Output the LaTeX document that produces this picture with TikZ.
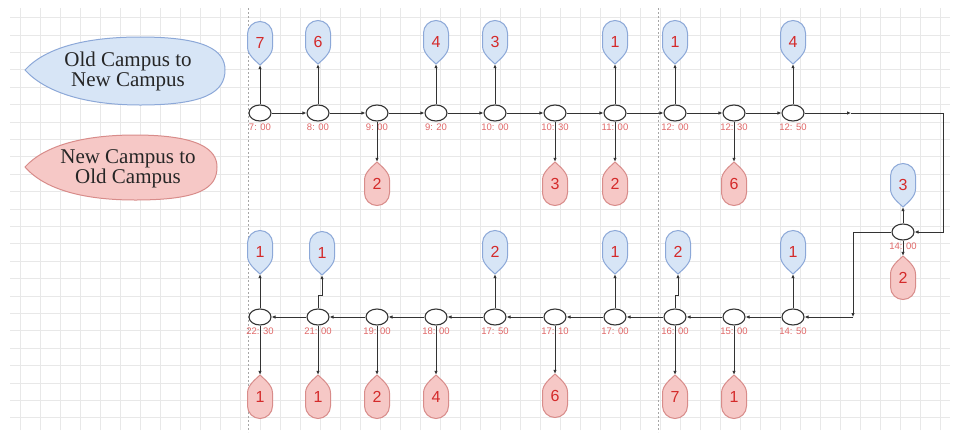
\documentclass[tikz,border=0pt]{standalone}
\usepackage{fontspec}
\setmainfont{Liberation Serif}
\newfontfamily\numfont{Liberation Sans}
\usetikzlibrary{shapes.geometric,arrows.meta}

\definecolor{tagblue}{HTML}{D7E5F6}
\definecolor{tagblueline}{HTML}{8CA8D8}
\definecolor{tagred}{HTML}{F6C8C6}
\definecolor{tagredline}{HTML}{D88C8A}
\definecolor{numred}{HTML}{D42A2A}
\definecolor{timered}{HTML}{E06868}
\definecolor{flowgray}{HTML}{333333}

\tikzset{
  tstop/.style={ellipse, draw=flowgray, line width=1.1pt, fill=white, minimum width=22pt, minimum height=16pt, inner sep=0pt},
  timelab/.style={font=\numfont\fontsize{9.5}{10}\selectfont, text=timered, inner sep=1pt},
  tagnode/.style={minimum width=25pt, minimum height=44pt, inner sep=0pt, font=\numfont\fontsize{16}{16}\selectfont, text=numred},
  upshape/.style={fill=tagblue, draw=tagblueline, line width=1pt},
  downshape/.style={fill=tagred, draw=tagredline, line width=1pt},
  flow/.style={draw=flowgray, line width=0.9pt, -{Latex[length=4pt,width=3.5pt]}},
  legendtext/.style={align=center, font=\fontsize{21}{20}\selectfont, text=black!85},
  guide/.style={draw=black!35, line width=0.5pt, dash pattern=on 2pt off 2pt},
  gridline/.style={draw=black!9, line width=0.5pt}
}

\newcommand{\uptag}[3]{%
  \draw[upshape, shift={(#2)}] (0,22) .. controls (-4,18) and (-12.5,12) .. (-12.5,4) -- (-12.5,-9)
    arc[start angle=180, end angle=360, radius=12.5] -- (12.5,4) .. controls (12.5,12) and (4,18) .. (0,22) -- cycle;
  \node[tagnode] (#1) at (#2) {#3};}
\newcommand{\downtag}[3]{%
  \draw[downshape, shift={(#2)}] (0,-22) .. controls (-4,-18) and (-12.5,-12) .. (-12.5,-4) -- (-12.5,9)
    arc[start angle=180, end angle=0, radius=12.5] -- (12.5,-4) .. controls (12.5,-12) and (4,-18) .. (0,-22) -- cycle;
  \node[tagnode] (#1) at (#2) {#3};}

\begin{document}
\begin{tikzpicture}[x=1pt, y=-1pt]
\fill[white] (0,0) rectangle (956,432);
\useasboundingbox (0,0) rectangle (956,432);
\begin{scope}[y=1pt]
\draw[gridline, xstep=20, ystep=17.4] (10,-430) grid (950,-8);
\end{scope}
\draw[guide] (248,8) -- (248,432);
\draw[guide] (658,8) -- (658,432);

% legend
\draw[upshape] (25,70) .. controls (45,48) and (85,37) .. (140,37) .. controls (205,37) and (225,50) .. (225,70)
  .. controls (225,92) and (205,105) .. (140,105) .. controls (85,105) and (45,92) .. (25,70) -- cycle;
\node[legendtext] (oldnew) at (128,71) {Old Campus to\\New Campus};
\draw[downshape] (25,167) .. controls (45,145) and (85,135) .. (135,135) .. controls (200,135) and (217,150) .. (217,167)
  .. controls (217,188) and (200,200) .. (135,200) .. controls (85,200) and (45,190) .. (25,167) -- cycle;
\node[legendtext] (newold) at (128,169) {New Campus to\\Old Campus};

% stops, morning
\node[tstop, label={[timelab, label distance=1pt]below:{7: 00}}] (t700) at (260,113) {};
\node[tstop, label={[timelab, label distance=1pt]below:{8: 00}}] (t800) at (318,113) {};
\node[tstop, label={[timelab, label distance=1pt]below:{9: 00}}] (t900) at (377,113) {};
\node[tstop, label={[timelab, label distance=1pt]below:{9: 20}}] (t920) at (436,113) {};
\node[tstop, label={[timelab, label distance=1pt]below:{10: 00}}] (t1000) at (495,113) {};
\node[tstop, label={[timelab, label distance=1pt]below:{10: 30}}] (t1030) at (555,113) {};
\node[tstop, label={[timelab, label distance=1pt]below:{11: 00}}] (t1100) at (615,113) {};
\node[tstop, label={[timelab, label distance=1pt]below:{12: 00}}] (t1200) at (675,113) {};
\node[tstop, label={[timelab, label distance=1pt]below:{12: 30}}] (t1230) at (734,113) {};
\node[tstop, label={[timelab, label distance=1pt]below:{12: 50}}] (t1250) at (793,113) {};
\node[tstop, label={[timelab, label distance=1pt]below:{14: 00}}] (t1400) at (903,232) {};

% stops, afternoon
\node[tstop, label={[timelab, label distance=1pt]below:{14: 50}}] (t1450) at (793,317) {};
\node[tstop, label={[timelab, label distance=1pt]below:{15: 00}}] (t1500) at (734,317) {};
\node[tstop, label={[timelab, label distance=1pt]below:{16: 00}}] (t1600) at (675,317) {};
\node[tstop, label={[timelab, label distance=1pt]below:{17: 00}}] (t1700) at (615,317) {};
\node[tstop, label={[timelab, label distance=1pt]below:{17: 10}}] (t1710) at (555,317) {};
\node[tstop, label={[timelab, label distance=1pt]below:{17: 50}}] (t1750) at (495,317) {};
\node[tstop, label={[timelab, label distance=1pt]below:{18: 00}}] (t1800) at (436,317) {};
\node[tstop, label={[timelab, label distance=1pt]below:{19: 00}}] (t1900) at (377,317) {};
\node[tstop, label={[timelab, label distance=1pt]below:{21: 00}}] (t2100) at (318,317) {};
\node[tstop, label={[timelab, label distance=1pt]below:{22: 30}}] (t2230) at (260,317) {};

% riders
\uptag{u700}{260,43}{7}
\uptag{u800}{318,42}{6}
\uptag{u920}{436,42}{4}
\uptag{u1000}{495,42}{3}
\uptag{u1100}{615,42}{1}
\uptag{u1200}{675,42}{1}
\uptag{u1250}{793,42}{4}
\downtag{d900}{377,184}{2}
\downtag{d1030}{555,184}{3}
\downtag{d1100}{615,184}{2}
\downtag{d1230}{734,184}{6}
\uptag{u1400}{903,185}{3}
\downtag{d1400}{903,278}{2}
\uptag{u1450}{793,252}{1}
\uptag{u1600}{678,252}{2}
\uptag{u1700}{615,252}{1}
\uptag{u1750}{495,252}{2}
\uptag{u2100}{322,253}{1}
\uptag{u2230}{260,252}{1}
\downtag{d1500}{734,397}{1}
\downtag{d1600}{675,397}{7}
\downtag{d1710}{555,396}{6}
\downtag{d1800}{436,397}{4}
\downtag{d1900}{377,397}{2}
\downtag{d2100}{318,397}{1}
\downtag{d2230}{260,397}{1}

% route
\draw[flow] (t700) -- (t800);
\draw[flow] (t800) -- (t900);
\draw[flow] (t900) -- (t920);
\draw[flow] (t920) -- (t1000);
\draw[flow] (t1000) -- (t1030);
\draw[flow] (t1030) -- (t1100);
\draw[flow] (t1100) -- (t1200);
\draw[flow] (t1200) -- (t1230);
\draw[flow] (t1230) -- (t1250);
\coordinate (turnA) at (851,113);
\coordinate (cornerA) at (943,113);
\coordinate (turnB) at (853,317);
\draw[flow] (t1250) -- (turnA);
\draw[flow] (turnA) -- (cornerA) |- (t1400);
\draw[flow] (t1400) -| (turnB);
\draw[flow] (turnB) -- (t1450);
\draw[flow] (t1450) -- (t1500);
\draw[flow] (t1500) -- (t1600);
\draw[flow] (t1600) -- (t1700);
\draw[flow] (t1700) -- (t1710);
\draw[flow] (t1710) -- (t1750);
\draw[flow] (t1750) -- (t1800);
\draw[flow] (t1800) -- (t1900);
\draw[flow] (t1900) -- (t2100);
\draw[flow] (t2100) -- (t2230);

% boarding and leaving
\draw[flow] (t700) -- (u700.south);
\draw[flow] (t800) -- (u800.south);
\draw[flow] (t920) -- (u920.south);
\draw[flow] (t1000) -- (u1000.south);
\draw[flow] (t1100) -- (u1100.south);
\draw[flow] (t1200) -- (u1200.south);
\draw[flow] (t1250) -- (u1250.south);
\draw[flow] (t900) -- (d900.north);
\draw[flow] (t1030) -- (d1030.north);
\draw[flow] (t1100) -- (d1100.north);
\draw[flow] (t1230) -- (d1230.north);
\draw[flow] (t1400) -- (u1400.south);
\draw[flow] (t1400) -- (d1400.north);
\draw[flow] (t1450) -- (u1450.south);
\draw[flow] (t1600) -- ++(0,-22) -| (u1600.south);
\draw[flow] (t1700) -- (u1700.south);
\draw[flow] (t1750) -- (u1750.south);
\draw[flow] (t2100) -- ++(0,-22) -| (u2100.south);
\draw[flow] (t2230) -- (u2230.south);
\draw[flow] (t1500) -- (d1500.north);
\draw[flow] (t1600) -- (d1600.north);
\draw[flow] (t1710) -- (d1710.north);
\draw[flow] (t1800) -- (d1800.north);
\draw[flow] (t1900) -- (d1900.north);
\draw[flow] (t2100) -- (d2100.north);
\draw[flow] (t2230) -- (d2230.north);
\end{tikzpicture}
\end{document}
